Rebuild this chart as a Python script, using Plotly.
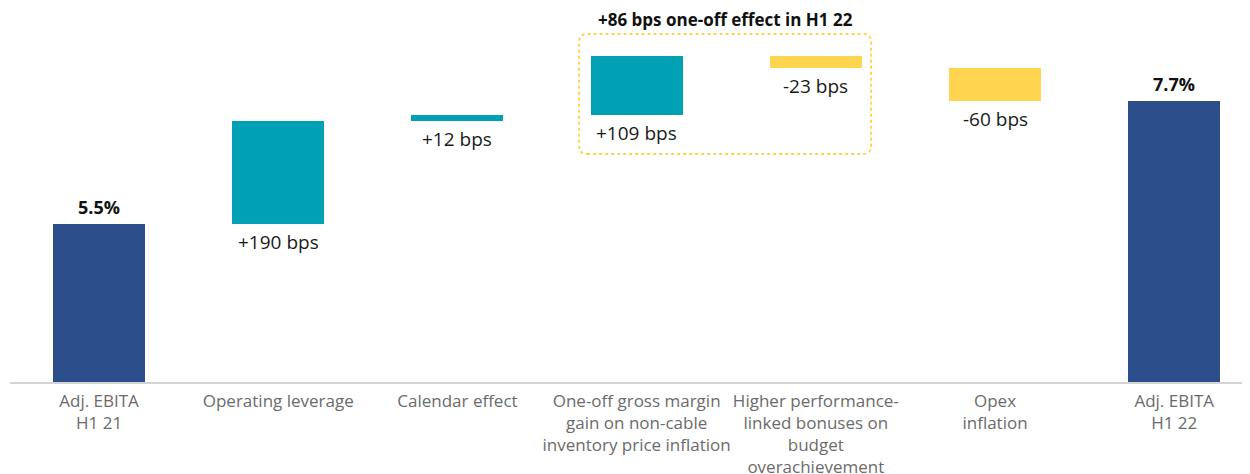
import plotly.graph_objects as go

categories = [
    "Adj. EBITA<br>H1 21",
    "Operating leverage",
    "Calendar effect",
    "One-off gross margin<br>gain on non-cable<br>inventory price inflation",
    "Higher performance-<br>linked bonuses on<br>budget<br>overachievement",
    "Opex<br>inflation",
    "Adj. EBITA<br>H1 22",
]
start_value = 5.5
deltas = [1.90, 0.12, 1.09, -0.23, -0.60]
value_labels = ["5.5%", "+190 bps", "+12 bps", "+109 bps", "-23 bps", "-60 bps", "7.7%"]
box_title = "+86 bps one-off effect in H1 22"

NAVY = "#2c4e8b"
TEAL = "#00a0b5"
YELLOW = "#ffd550"
FONT = "Open Sans"

# cumulative levels
levels = [start_value]
for d in deltas:
    levels.append(levels[-1] + d)
end_value = levels[-1]

xs = list(range(len(categories)))
bases, heights, colors = [], [], []
bases.append(0); heights.append(start_value); colors.append(NAVY)
for i, d in enumerate(deltas):
    lo = min(levels[i], levels[i + 1])
    bases.append(lo); heights.append(abs(d))
    colors.append(TEAL if d > 0 else YELLOW)
bases.append(0); heights.append(end_value); colors.append(NAVY)

fig = go.Figure()
fig.add_trace(go.Bar(
    x=xs, y=heights, base=bases, marker=dict(color=colors, line=dict(width=0)),
    width=0.513, hoverinfo="skip", showlegend=False,
))

annotations = []
# totals: bold labels above
for i in (0, len(categories) - 1):
    annotations.append(dict(
        x=xs[i], y=heights[i], xref="x", yref="y", text=f"<b>{value_labels[i]}</b>",
        showarrow=False, yanchor="bottom", yshift=3,
        font=dict(family=FONT, size=18, color="#111111"),
    ))
# deltas: labels below bar bottom
for j, d in enumerate(deltas):
    i = j + 1
    annotations.append(dict(
        x=xs[i], y=bases[i], xref="x", yref="y", text=value_labels[i],
        showarrow=False, yanchor="top", yshift=-3,
        font=dict(family=FONT, size=19, color="#1a1a1a"),
    ))

# dotted rounded box around one-off effects
x0, x1 = 2.679, 4.308
y0, y1 = 6.792, 9.014
rx, ry = 0.045, 0.15
path = (
    f"M {x0+rx},{y0} L {x1-rx},{y0} Q {x1},{y0} {x1},{y0+ry} "
    f"L {x1},{y1-ry} Q {x1},{y1} {x1-rx},{y1} "
    f"L {x0+rx},{y1} Q {x0},{y1} {x0},{y1-ry} "
    f"L {x0},{y0+ry} Q {x0},{y0} {x0+rx},{y0} Z"
)
shapes = [dict(type="path", path=path, xref="x", yref="y",
               line=dict(color=YELLOW, width=2, dash="dot"))]

annotations.append(dict(
    x=(x0 + x1) / 2, y=y1, xref="x", yref="y", text=f"<b>{box_title}</b>",
    showarrow=False, yanchor="bottom", yshift=1,
    font=dict(family=FONT, size=17, color="#111111"),
))

fig.update_layout(
    width=1250, height=474,
    margin=dict(l=2, r=8, t=0, b=100),
    plot_bgcolor="white", paper_bgcolor="white",
    annotations=annotations, shapes=shapes,
    bargap=0,
    font=dict(family=FONT),
)
fig.update_xaxes(
    range=[-0.497, 6.423], tickmode="array", tickvals=xs, ticktext=categories,
    showline=True, linecolor="#d4d4d4", linewidth=1.5, showgrid=False,
    ticks="", tickfont=dict(family=FONT, size=17, color="#6b6b6b"),
    ticklabelstandoff=3, zeroline=False,
)
fig.update_yaxes(
    range=[2.57, 2.57 + 374 / 54], visible=False, showgrid=False, zeroline=False,
)

fig.write_html("out.html")
